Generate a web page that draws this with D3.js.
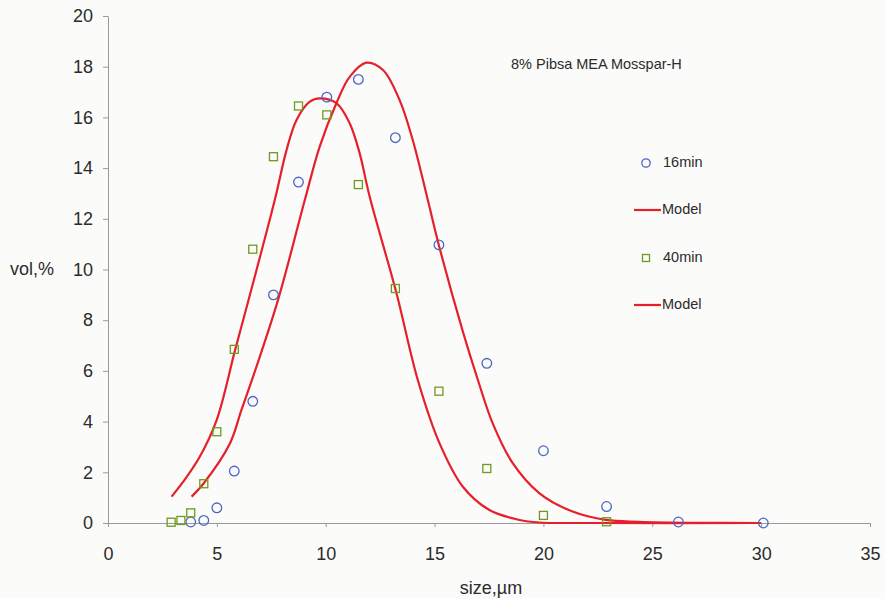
<!DOCTYPE html>
<html>
<head>
<meta charset="utf-8">
<script src="https://cdn.jsdelivr.net/npm/d3@7"></script>
<style>
  body { margin: 0; background: #fbfbfa; }
  svg { display: block; font-family: "Liberation Sans", Arial, sans-serif; }
</style>
</head>
<body>
<div id="chart"></div>
<script>
// Datos: tamaño (µm) y vol,%
const sizes16 = [3.8, 4.4, 5.0, 5.8, 6.65, 7.6, 8.75, 10.05, 11.5, 13.2, 15.2, 17.4, 20.0, 22.9, 26.2, 30.1];
const vol16   = [0.04, 0.1, 0.6, 2.05, 4.8, 9.0, 13.45, 16.8, 17.5, 15.2, 10.97, 6.3, 2.85, 0.65, 0.04, 0.0];

const sizes40 = [2.9, 3.35, 3.8, 4.4, 5.0, 5.8, 6.65, 7.6, 8.75, 10.05, 11.5, 13.2, 15.2, 17.4, 20.0, 22.9];
const vol40   = [0.03, 0.1, 0.4, 1.55, 3.6, 6.85, 10.8, 14.45, 16.45, 16.1, 13.35, 9.25, 5.2, 2.15, 0.3, 0.05];

// Curvas del modelo
const model16X = [3.84, 4.37, 5.6, 6.13, 6.82, 7.81, 9.04, 9.72, 10.49, 11.1, 11.87, 12.63, 13.39, 14.0, 14.69, 15.2, 16.3, 16.99, 17.67, 18.59, 19.82, 21.34, 22.87, 24.4, 27, 30];
const model16Y = [1.04, 1.54, 3.14, 4.46, 6.17, 8.8, 12.74, 14.84, 16.56, 17.6, 18.16, 17.87, 16.69, 15.1, 12.74, 10.95, 7.55, 5.64, 3.93, 2.36, 1.17, 0.45, 0.12, 0.05, 0.01, 0];

const model40X = [2.92, 3.6, 4.22, 4.99, 5.83, 6.44, 7.66, 8.2, 8.66, 9.27, 9.72, 10.49, 11.1, 11.56, 12.02, 13.24, 14.23, 15.23, 16.3, 17.52, 18.9, 19.8, 22, 30];
const model40Y = [1.04, 1.8, 2.62, 4.06, 6.8, 8.75, 12.74, 14.71, 15.9, 16.62, 16.75, 16.56, 15.77, 14.58, 12.87, 9.1, 5.64, 3.14, 1.43, 0.51, 0.12, 0.02, 0.0, 0];

const xTicks = [0, 5, 10, 15, 20, 25, 30, 35];
const yTicks = [0, 2, 4, 6, 8, 10, 12, 14, 16, 18, 20];

const width = 885, height = 599;
const margin = { top: 16, right: 15, bottom: 76, left: 108 };

const svg = d3.select("#chart").append("svg")
  .attr("width", width)
  .attr("height", height);

svg.append("rect").attr("width", width).attr("height", height).attr("fill", "#fbfbfa");

const x = d3.scaleLinear().domain([0, 35]).range([margin.left, 870]);
const y = d3.scaleLinear().domain([0, 20]).range([523, margin.top]);

const axisColor = "#9a9a9a";
const textColor = "#2b2b2b";

// Eje Y
const gy = svg.append("g")
  .attr("transform", `translate(${x(0)},0)`)
  .call(d3.axisLeft(y).tickValues(yTicks).tickSize(5).tickPadding(10).tickSizeOuter(0));
gy.select(".domain").attr("stroke", axisColor);
gy.selectAll(".tick line").attr("stroke", axisColor);
gy.selectAll(".tick text").attr("fill", textColor).attr("font-size", 18);

// Eje X
const gx = svg.append("g")
  .attr("transform", `translate(0,${y(0)})`)
  .call(d3.axisBottom(x).tickValues(xTicks).tickSize(4).tickPadding(20).tickSizeOuter(0));
gx.select(".domain").attr("stroke", axisColor);
gx.selectAll(".tick line").attr("stroke", axisColor);
gx.selectAll(".tick text").attr("fill", textColor).attr("font-size", 18);

// Títulos de ejes
svg.append("text")
  .attr("x", 10).attr("y", 270)
  .attr("dominant-baseline", "middle")
  .attr("fill", textColor).attr("font-size", 18)
  .text("vol,%");

svg.append("text")
  .attr("x", 491).attr("y", 594)
  .attr("text-anchor", "middle")
  .attr("fill", textColor).attr("font-size", 18)
  .text("size,µm");

svg.append("text")
  .attr("x", 511).attr("y", 69)
  .attr("fill", textColor).attr("font-size", 14.5)
  .text("8% Pibsa MEA Mosspar-H");

// Curvas del modelo
const line = d3.line()
  .x(d => x(d[0]))
  .y(d => y(d[1]))
  .curve(d3.curveCatmullRom.alpha(0.5));

const red = "#e6202b";

svg.append("path")
  .datum(model16X.map((v, i) => [v, model16Y[i]]))
  .attr("d", line)
  .attr("fill", "none")
  .attr("stroke", red)
  .attr("stroke-width", 2.2);

svg.append("path")
  .datum(model40X.map((v, i) => [v, model40Y[i]]))
  .attr("d", line)
  .attr("fill", "none")
  .attr("stroke", red)
  .attr("stroke-width", 2.2);

// Puntos 16min (círculos)
const blue = "#4a66c4";
svg.selectAll(".p16")
  .data(sizes16.map((v, i) => [v, vol16[i]]))
  .enter()
  .append("circle")
  .attr("class", "p16")
  .attr("cx", d => x(d[0]))
  .attr("cy", d => y(d[1]))
  .attr("r", 4.8)
  .attr("fill", "none")
  .attr("stroke", blue)
  .attr("stroke-width", 1.3);

// Puntos 40min (cuadrados)
const green = "#6e9a1e";
const sq = 8;
svg.selectAll(".p40")
  .data(sizes40.map((v, i) => [v, vol40[i]]))
  .enter()
  .append("rect")
  .attr("class", "p40")
  .attr("x", d => x(d[0]) - sq / 2)
  .attr("y", d => y(d[1]) - sq / 2)
  .attr("width", sq)
  .attr("height", sq)
  .attr("fill", "none")
  .attr("stroke", green)
  .attr("stroke-width", 1.3);

// Leyenda
const legend = svg.append("g");
const legendRows = [
  { label: "16min", type: "circle", yPos: 163 },
  { label: "Model", type: "line", yPos: 210 },
  { label: "40min", type: "square", yPos: 258 },
  { label: "Model", type: "line", yPos: 305 }
];

legendRows.forEach(r => {
  if (r.type === "circle") {
    legend.append("circle").attr("cx", 646).attr("cy", r.yPos).attr("r", 4.2)
      .attr("fill", "none").attr("stroke", blue).attr("stroke-width", 1.3);
  } else if (r.type === "square") {
    legend.append("rect").attr("x", 642.5).attr("y", r.yPos - 3.5).attr("width", 7).attr("height", 7)
      .attr("fill", "none").attr("stroke", green).attr("stroke-width", 1.3);
  } else {
    legend.append("line").attr("x1", 634).attr("x2", 661).attr("y1", r.yPos).attr("y2", r.yPos)
      .attr("stroke", red).attr("stroke-width", 2.2);
  }
  legend.append("text")
    .attr("x", r.type === "line" ? 662 : 663)
    .attr("y", r.yPos)
    .attr("dominant-baseline", "middle")
    .attr("fill", textColor)
    .attr("font-size", 14.5)
    .text(r.label);
});
</script>
</body>
</html>
